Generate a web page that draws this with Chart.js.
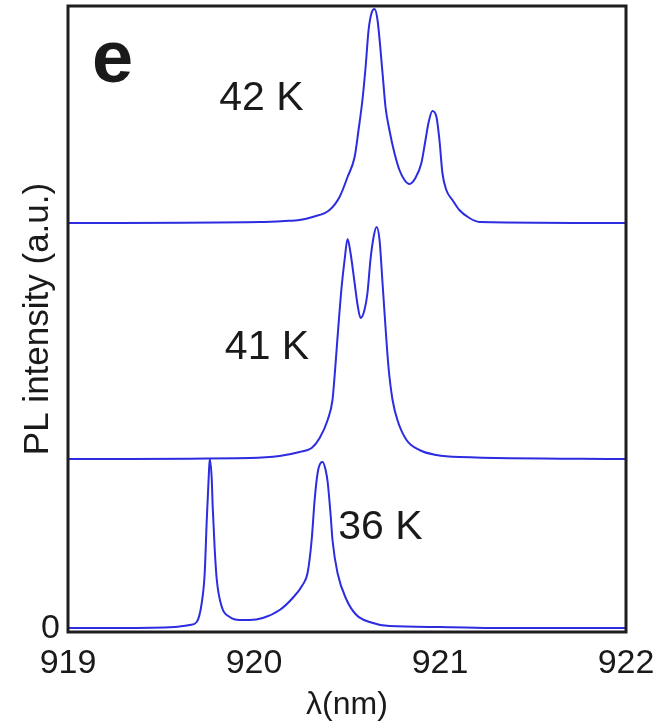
<!DOCTYPE html>
<html>
<head>
<meta charset="utf-8">
<script src="https://cdn.jsdelivr.net/npm/chart.js@4.4.0/dist/chart.umd.min.js"></script>
<style>
  html, body { margin: 0; padding: 0; background: #fff; }
  #wrap { width: 669px; height: 721px; }
</style>
</head>
<body>
<div id="wrap"><canvas id="plChart" width="669" height="721"></canvas></div>
<script>
// wavelength (nm) and PL intensity (a.u., above each trace's own baseline)
const wl36 = [919.000, 919.279, 919.574, 919.655, 919.692, 919.719, 919.735, 919.746, 919.757, 919.762, 919.773, 919.778, 919.789, 919.800, 919.827, 919.870, 919.923, 919.977, 920.047, 920.138, 920.208, 920.261, 920.288, 920.310, 920.326, 920.342, 920.358, 920.369, 920.385, 920.396, 920.412, 920.422, 920.449, 920.498, 920.551, 920.621, 920.728, 920.997, 921.319, 922.000];
const pl36 = [0.01, 0.01, 0.02, 0.04, 0.07, 0.26, 0.56, 1.09, 1.54, 1.70, 1.49, 1.22, 0.79, 0.49, 0.22, 0.12, 0.09, 0.09, 0.11, 0.19, 0.31, 0.44, 0.56, 0.89, 1.29, 1.56, 1.66, 1.67, 1.59, 1.47, 1.14, 0.89, 0.56, 0.29, 0.14, 0.07, 0.03, 0.02, 0.01, 0.01];

const wl41 = [919.000, 919.977, 920.138, 920.245, 920.310, 920.353, 920.396, 920.422, 920.433, 920.444, 920.455, 920.471, 920.487, 920.503, 920.519, 920.541, 920.557, 920.573, 920.594, 920.610, 920.626, 920.643, 920.659, 920.675, 920.691, 920.707, 920.723, 920.745, 920.771, 920.820, 920.889, 920.981, 921.104, 922.000];
const pl41 = [0.00, 0.01, 0.03, 0.07, 0.11, 0.21, 0.39, 0.59, 0.82, 1.09, 1.36, 1.72, 1.99, 2.20, 2.06, 1.76, 1.54, 1.41, 1.49, 1.66, 1.99, 2.22, 2.32, 2.19, 1.76, 1.32, 0.92, 0.59, 0.39, 0.19, 0.09, 0.04, 0.02, 0.00];

const wl42 = [919.000, 920.031, 920.165, 920.245, 920.315, 920.406, 920.460, 920.503, 920.541, 920.562, 920.583, 920.600, 920.616, 920.632, 920.648, 920.664, 920.691, 920.707, 920.728, 920.755, 920.782, 920.809, 920.836, 920.868, 920.900, 920.922, 920.938, 920.959, 920.981, 920.997, 921.013, 921.034, 921.067, 921.104, 921.158, 921.212, 922.000];
const pl42 = [0.00, 0.01, 0.02, 0.03, 0.06, 0.13, 0.26, 0.46, 0.66, 0.93, 1.23, 1.56, 1.93, 2.10, 2.14, 2.03, 1.50, 1.16, 0.93, 0.70, 0.53, 0.43, 0.39, 0.45, 0.60, 0.83, 1.00, 1.12, 1.06, 0.83, 0.50, 0.33, 0.23, 0.13, 0.05, 0.01, 0.00];

const temps = ["36 K", "41 K", "42 K"];
const offsets = [0, 1.70, 4.06];   // vertical stacking of the traces
const xTicks = [919, 920, 921, 922];
const yTicks = [0];

// text labels on the plot: [text, wavelength, y, bold]
const notes = [
  ["e", 919.24, 5.67, true],
  ["42 K", 920.04, 5.30, false],
  ["41 K", 920.07, 2.81, false],
  ["36 K", 920.68, 1.01, false]
];

const FONT = "'Liberation Sans', Arial, Helvetica, sans-serif";
const lineColor = "#2c2ce0";

function series(wl, pl, off) {
  return wl.map((w, i) => ({ x: w, y: pl[i] + off }));
}

const traces = [[wl36, pl36], [wl41, pl41], [wl42, pl42]];

// frame + text annotations
const framePlugin = {
  id: "frame",
  afterDatasetsDraw(chart) {
    const { ctx, chartArea: a, scales } = chart;
    ctx.save();
    ctx.strokeStyle = "#1e1e1e";
    ctx.lineWidth = 3;
    ctx.strokeRect(a.left, a.top, a.right - a.left, a.bottom - a.top);

    ctx.fillStyle = "#1a1a1a";
    ctx.textAlign = "center";
    ctx.textBaseline = "middle";
    notes.forEach(([t, x, y, bold]) => {
      ctx.font = bold ? "bold 74px " + FONT : "41px " + FONT;
      ctx.fillText(t, scales.x.getPixelForValue(x), scales.y.getPixelForValue(y));
    });
    ctx.restore();
  }
};

new Chart(document.getElementById("plChart"), {
  type: "line",
  data: {
    datasets: traces.map((t, i) => ({
      label: temps[i],
      data: series(t[0], t[1], offsets[i]),
      borderColor: lineColor,
      borderWidth: 2,
      pointRadius: 0,
      fill: false,
      cubicInterpolationMode: "monotone"
    }))
  },
  options: {
    responsive: false,
    animation: false,
    layout: { padding: { top: 6, right: 43, left: 0, bottom: 0 } },
    plugins: { legend: { display: false }, tooltip: { enabled: false } },
    scales: {
      x: {
        type: "linear",
        min: 919,
        max: 922,
        afterBuildTicks: (s) => { s.ticks = xTicks.map(v => ({ value: v })); },
        afterFit: (s) => { s.height = 89; s.paddingLeft = 0; s.paddingRight = 0; },
        grid: { display: false, drawTicks: false },
        border: { display: false },
        ticks: {
          padding: 15,
          color: "#1a1a1a",
          maxRotation: 0,
          font: { family: FONT, size: 34, lineHeight: 1 }
        },
        title: {
          display: true,
          text: "λ(nm)",
          color: "#1a1a1a",
          padding: { top: 0, bottom: 0 },
          font: { family: FONT, size: 32, lineHeight: 1 }
        }
      },
      y: {
        type: "linear",
        min: -0.03,
        max: 6.23,
        afterBuildTicks: (s) => { s.ticks = yTicks.map(v => ({ value: v })); },
        afterFit: (s) => { s.width = 68; s.paddingTop = 0; s.paddingBottom = 0; },
        grid: { display: false, drawTicks: false },
        border: { display: false },
        ticks: {
          padding: 8,
          color: "#1a1a1a",
          font: { family: FONT, size: 34, lineHeight: 1 }
        },
        title: {
          display: true,
          text: "PL intensity (a.u.)",
          color: "#1a1a1a",
          padding: { top: 21, bottom: 0 },
          font: { family: FONT, size: 35, lineHeight: 1 }
        }
      }
    }
  },
  plugins: [framePlugin]
});
</script>
</body>
</html>
